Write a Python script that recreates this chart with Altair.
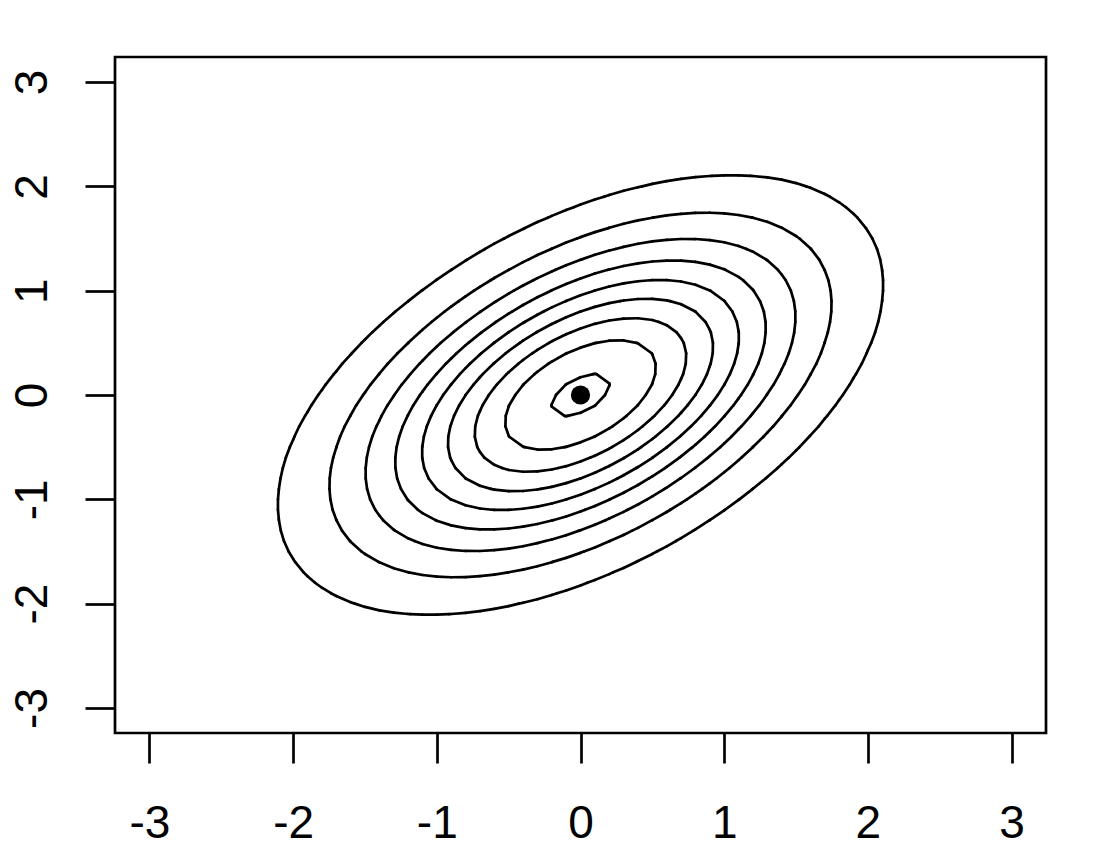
import numpy as np
import pandas as pd
import altair as alt

# ---- data / parameters ----
GRID_MIN = -3.0
GRID_MAX = 3.0
GRID_STEP = 0.1
MEAN = [0.0, 0.0]
SD = [1.0, 1.0]
RHO = 0.5
LEVELS = [0.02, 0.04, 0.06, 0.08, 0.10, 0.12, 0.14, 0.16, 0.18]
TICKS = [-3, -2, -1, 0, 1, 2, 3]
CENTER_X = [0.0]
CENTER_Y = [0.0]
DOMAIN = [-3.24, 3.24]

# ---- density on a grid, contoured like R's contour() ----
n = int(round((GRID_MAX - GRID_MIN) / GRID_STEP)) + 1
gx = np.round(np.linspace(GRID_MIN, GRID_MAX, n), 10)
gy = gx.copy()
X, Y = np.meshgrid(gx, gy, indexing="ij")
ux = (X - MEAN[0]) / SD[0]
uy = (Y - MEAN[1]) / SD[1]
Z = np.exp(-(ux**2 - 2 * RHO * ux * uy + uy**2) / (2 * (1 - RHO**2))) / (
    2 * np.pi * SD[0] * SD[1] * np.sqrt(1 - RHO**2))


def inter(z0, z1, zc):
    if (z0 - zc) * (z1 - zc) < 0:
        return (zc - z0) / (z1 - z0)
    return None


rows = []
for lev in LEVELS:
    for i in range(n - 1):
        xl, xh = gx[i], gx[i + 1]
        for j in range(n - 1):
            yl, yh = gy[j], gy[j + 1]
            zll, zhl, zlh, zhh = Z[i, j], Z[i + 1, j], Z[i, j + 1], Z[i + 1, j + 1]
            pts = []
            f = inter(zll, zhl, lev)
            if f is not None:
                pts.append((xl + f * (xh - xl), yl))
            f = inter(zll, zlh, lev)
            if f is not None:
                pts.append((xl, yl + f * (yh - yl)))
            f = inter(zhl, zhh, lev)
            if f is not None:
                pts.append((xh, yl + f * (yh - yl)))
            f = inter(zlh, zhh, lev)
            if f is not None:
                pts.append((xl + f * (xh - xl), yh))
            if len(pts) == 2:
                rows.append((lev, *pts[0], *pts[1]))
            elif len(pts) == 4:
                pts.sort(key=lambda p: p[0])
                rows.append((lev, *pts[0], *pts[1]))
                rows.append((lev, *pts[2], *pts[3]))

seg = pd.DataFrame(rows, columns=["level", "x", "y", "x_end", "y_end"])
center = pd.DataFrame({"x": CENTER_X, "y": CENTER_Y})

FONT = "Liberation Sans"

xaxis = alt.Axis(values=TICKS, title=None, grid=False, domain=False,
                 tickSize=30, tickWidth=2.7, tickColor="black",
                 labelFont=FONT, labelFontSize=46, labelColor="black",
                 labelBaseline="alphabetic", labelPadding=74,
                 labelFlush=False, labelOverlap=False,
                 labelExpr="'' + datum.value")
yaxis = alt.Axis(values=TICKS, title=None, grid=False, domain=False,
                 tickSize=30, tickWidth=2.7, tickColor="black",
                 labelFont=FONT, labelFontSize=46, labelColor="black",
                 labelAngle=270, labelAlign="center",
                 labelBaseline="alphabetic", labelPadding=39,
                 labelFlush=False, labelOverlap=False,
                 labelExpr="'' + datum.value")

xs = alt.Scale(domain=DOMAIN, nice=False, zero=False)
ys = alt.Scale(domain=DOMAIN, nice=False, zero=False)

lines = alt.Chart(seg).mark_rule(color="black", strokeWidth=2.7, strokeCap="round").encode(
    x=alt.X("x:Q", scale=xs, axis=xaxis),
    y=alt.Y("y:Q", scale=ys, axis=yaxis),
    x2="x_end:Q",
    y2="y_end:Q",
)

dot = alt.Chart(center).mark_circle(size=370, color="black", opacity=1).encode(
    x=alt.X("x:Q", scale=xs),
    y=alt.Y("y:Q", scale=ys),
)

chart = alt.layer(lines, dot).properties(
    width=931, height=676,
    background="white",
    autosize=alt.AutoSizeParams(type="none"),
    padding={"left": 107, "top": 49, "right": 50, "bottom": 108},
).configure_view(stroke="black", strokeWidth=2.7)

chart.save("out.html", embed_options={"renderer": "svg", "actions": False})
